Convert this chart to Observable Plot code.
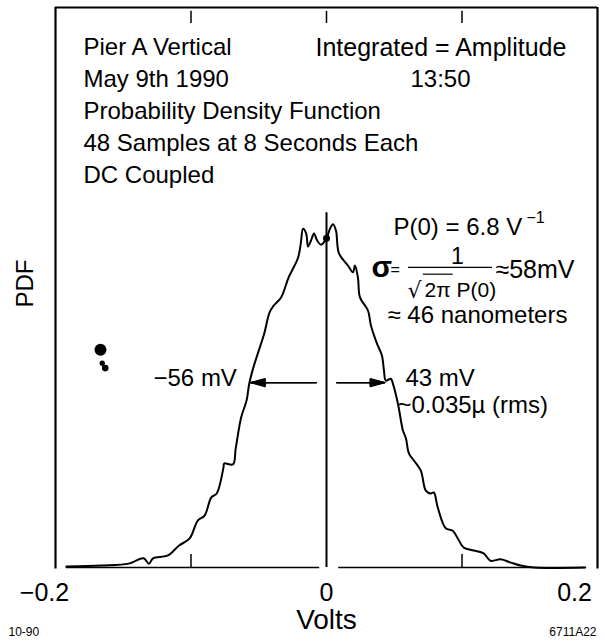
<!DOCTYPE html>
<html><head><meta charset="utf-8">
<script src="https://cdn.jsdelivr.net/npm/d3@7"></script>
<script src="https://cdn.jsdelivr.net/npm/@observablehq/plot@0.6"></script>
<style>
html,body{margin:0;padding:0;background:#fff;}
svg{display:block;}
</style>
</head><body><div id="chart"></div>
<script>
// PDF curve (volts, 1/V)
const volts = [-0.192,-0.166,-0.146,-0.135,-0.131,-0.128,-0.117,-0.109,-0.101,-0.095,-0.090,-0.085,-0.081,-0.076,-0.0755,-0.069,-0.067,-0.063,-0.059,-0.057,-0.054,-0.050,-0.046,-0.042,-0.039,-0.0335,-0.028,-0.021,-0.019,-0.0173,-0.015,-0.0136,-0.0114,-0.0092,-0.007,-0.004,0,0.0026,0.0048,0.007,0.0092,0.0158,0.0195,0.021,0.0232,0.0247,0.0306,0.0328,0.0372,0.0409,0.0424,0.0438,0.0475,0.049,0.0527,0.0564,0.0586,0.0608,0.0645,0.0696,0.0733,0.077,0.0792,0.0821,0.088,0.0932,0.0969,0.1013,0.1087,0.116,0.121,0.1286,0.136,0.1433,0.153,0.191];
const pdf = [0.02,0.04,0.08,0.19,0.08,0.19,0.25,0.45,0.60,0.97,1.07,1.45,1.53,2.07,2.15,2.13,2.46,3.10,3.45,3.80,4.13,4.48,4.83,5.27,5.41,5.58,5.99,6.40,6.69,7.00,6.90,6.63,6.76,6.90,6.76,6.67,6.80,7.00,7.09,6.96,6.49,6.24,6.10,6.24,5.99,5.58,5.31,5.00,4.63,4.38,4.07,3.86,3.90,3.80,3.39,2.83,2.67,2.36,2.21,2.00,1.59,1.53,1.55,1.24,0.81,0.76,0.60,0.41,0.35,0.29,0.14,0.17,0.10,0.04,0.0,0.0];

const xTickValues = [-0.2, 0, 0.2];
const xTickLabels = ["\u22120.2", "0", "0.2"];
const topTicks = [-0.1, 0, 0.1];
const bottomTicks = [-0.1, 0.1];

const p0 = 6.8;                     // P(0), 1/V
const halfPoints = [-0.056, 0.043]; // arrow targets, V
const arrowLevel = 3.82;            // PDF level of the arrows
const centerLineTop = 7.33;
const specks = [{v: -0.1668, p: 4.5, r: 3.6}, {v: -0.1655, p: 4.22, r: 0.7}, {v: -0.1633, p: 4.12, r: 1.1}];

const headerLines = ["Pier A Vertical", "May 9th 1990", "Probability Density Function", "48 Samples at 8 Seconds Each", "DC Coupled"];
const headerRight = ["Integrated = Amplitude", "13:50"];
const xLabel = "Volts";
const yLabel = "PDF";
const footLeft = "10-90";
const footRight = "6711A22";

const curve = volts.map((v, i) => ({v, p: pdf[i]})).filter(d => d.p !== undefined);
const yMax = 11.57;
const FONT = "'Liberation Sans', Arial, Helvetica, sans-serif";

const txt = (s, o) => Plot.text([s], {text: d => d, frameAnchor: "top-left", textAnchor: "start", lineAnchor: "middle", fontSize: 24, fill: "black", ...o});

const arrows = halfPoints.map(h => ({x1: Math.sign(h) * 0.0075, x2: h, y: arrowLevel}));

const chart = Plot.plot({
  width: 605,
  height: 643,
  marginLeft: 55,
  marginRight: 8,
  marginTop: 7,
  marginBottom: 76,
  x: {domain: [-0.2, 0.2], axis: null},
  y: {domain: [0, yMax], axis: null},
  style: {fontFamily: FONT, background: "white", color: "black"},
  marks: [
    // frame
    Plot.ruleX([-0.2, 0.2], {strokeWidth: 2.2, y1: -0.03, y2: yMax}),
    Plot.ruleY([yMax], {strokeWidth: 2.2}),
    Plot.ruleX(topTicks, {y1: yMax - 0.08, y2: yMax - 0.33, strokeWidth: 1.5}),
    Plot.ruleX(bottomTicks, {y1: 0, y2: 0.27, strokeWidth: 1.5}),
    Plot.ruleY([0], {x1: -0.192, x2: -0.005, strokeWidth: 1.6}),
    Plot.ruleY([0], {x1: 0.009, x2: 0.191, strokeWidth: 1.6}),
    Plot.ruleX([0], {y1: 0, y2: centerLineTop, strokeWidth: 2}),
    // curve
    Plot.line(curve, {x: "v", y: "p", stroke: "black", strokeWidth: 2, curve: "catmull-rom"}),
    Plot.dot([{v: 0, p: p0}], {x: "v", y: "p", r: 3.5, fill: "black", stroke: null}),
    Plot.dot(specks, {x: "v", y: "p", r: "r", fill: "black", stroke: null}),
    // arrows (stacked heads give a filled look)
    ...[30, 22, 14, 6].map(a => Plot.arrow(arrows, {x1: "x1", x2: "x2", y1: "y", y2: "y", headLength: 16, headAngle: a, strokeWidth: 1.4, stroke: "black"})),
    // header
    ...headerLines.map((t, i) => txt(t, {dx: 28, dy: 40 + 32 * i})),
    txt(headerRight[0], {dx: 260, dy: 40, fontSize: 25}),
    txt(headerRight[1], {dx: 355, dy: 72}),
    // annotations
    txt("P(0) = 6.8 V", {dx: 338, dy: 220}),
    txt("\u22121", {dx: 471, dy: 210, fontSize: 16}),
    txt("\u03c3", {dx: 316, dy: 260, fontSize: 30, fontWeight: "bold"}),
    txt("=", {dx: 335, dy: 262, fontSize: 16}),
    txt("1", {dx: 402, dy: 249, fontSize: 23, textAnchor: "middle"}),
    Plot.ruleY([6.2], {x1: 0.0605, x2: 0.1225, strokeWidth: 1.4}),
    txt("\u221a", {dx: 352, dy: 283, fontSize: 22, fontFamily: "'DejaVu Sans', sans-serif"}),
    Plot.ruleY([6.06], {x1: 0.0715, x2: 0.0935, strokeWidth: 1.2}),
    txt("2\u03c0 P(0)", {dx: 369, dy: 283, fontSize: 21}),
    txt("\u224858mV", {dx: 440, dy: 262, fontSize: 25}),
    txt("\u2248 46 nanometers", {dx: 332, dy: 308}),
    txt("43 mV", {dx: 350, dy: 371}),
    txt("~0.035\u00b5 (rms)", {dx: 342, dy: 398}),
    txt("\u221256 mV", {dx: 98, dy: 371}),
    // x tick labels
    ...xTickValues.map((v, i) => Plot.text([v], {x: d => d, text: () => xTickLabels[i], frameAnchor: "bottom", lineAnchor: "middle", dy: 25, dx: [-11, 0, -23][i], fontSize: 25, fill: "black"})),
    // axis titles and footers
    Plot.text([xLabel], {text: d => d, frameAnchor: "bottom", lineAnchor: "middle", dy: 53, fontSize: 28, fill: "black"}),
    Plot.text([yLabel], {text: d => d, frameAnchor: "left", lineAnchor: "middle", rotate: -90, dx: -30, dy: 20, fontSize: 24, fill: "black"}),
    Plot.text([footLeft], {text: d => d, frameAnchor: "bottom-left", textAnchor: "start", lineAnchor: "middle", dx: -47, dy: 65, fontSize: 12, fill: "black"}),
    Plot.text([footRight], {text: d => d, frameAnchor: "bottom-right", textAnchor: "end", lineAnchor: "middle", dx: -1, dy: 65, fontSize: 12, fill: "black"})
  ]
});
document.getElementById("chart").appendChild(chart);
</script>
</body></html>
